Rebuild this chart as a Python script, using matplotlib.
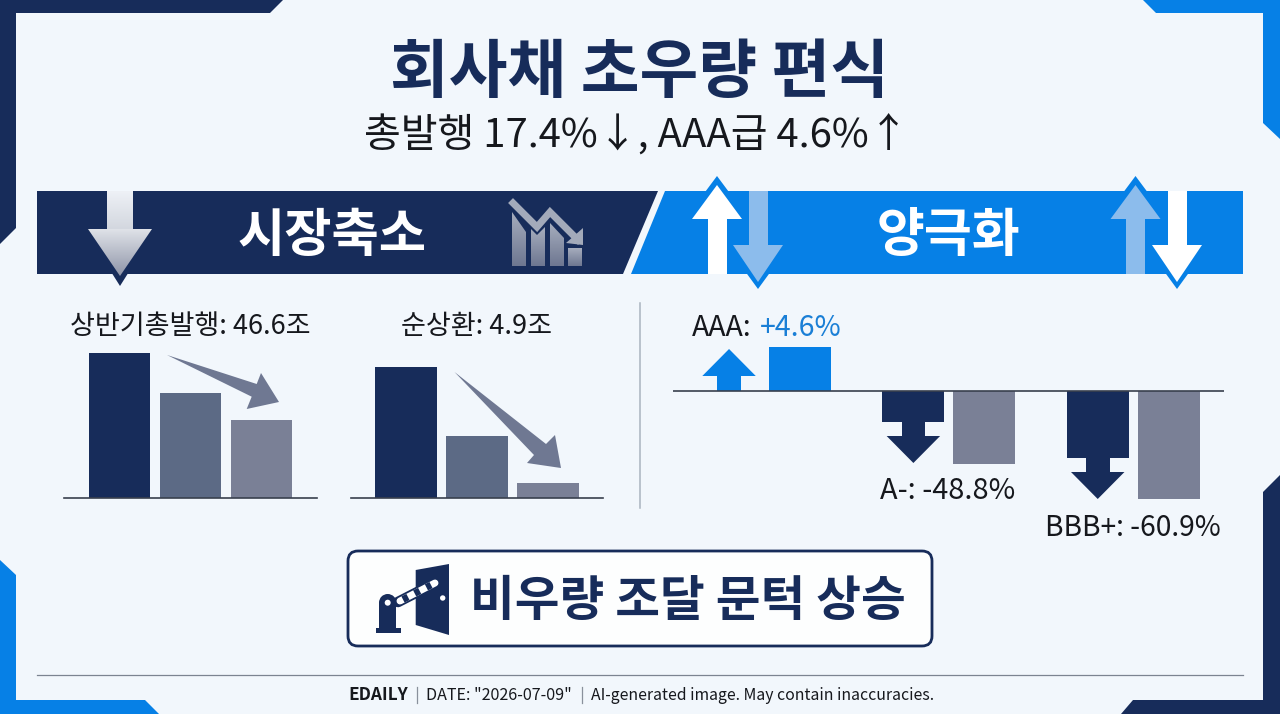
# Corporate bond infographic: high-grade bias in issuance

import numpy as np
import matplotlib
matplotlib.use("Agg")
import matplotlib.pyplot as plt
from matplotlib.patches import Polygon, Rectangle, FancyBboxPatch, Circle

plt.rcParams['font.family'] = ['Noto Sans CJK KR', 'DejaVu Sans']

W, H = 1280, 714
NAVY = "#172c5a"
BLUE = "#0680e6"
LIGHT_BLUE = "#8cbcec"
BG = "#f2f7fc"
SLATE = "#5c6a85"
GREY = "#7a8096"
INK = "#16181d"

# bar heights (the bars are not drawn to a printed scale)
issue_heights = [145, 105, 78]
redeem_heights = [131, 62, 15]
grades = ["AAA", "A-", "BBB+"]
grade_changes = ["+4.6%", "-48.8%", "-60.9%"]
grade_stubs = [0, -31, -67]
grade_bars = [44, -73, -108]
grade_tips = [42, -72, -108]
bar_colors = [NAVY, SLATE, GREY]
grade_colors = [BLUE, GREY, GREY]


def px_axes(fig, x0, y0, x1, y1):
    # axes placed by picture pixels (y counted from the top)
    ax = fig.add_axes([x0 / W, 1 - y1 / H, (x1 - x0) / W, (y1 - y0) / H])
    ax.patch.set_alpha(0)
    ax.set_xticks([])
    ax.set_yticks([])
    for s in ax.spines.values():
        s.set_visible(False)
    return ax


def poly(ax, pts, color, **kw):
    p = Polygon(pts, closed=True, facecolor=color, edgecolor="none", **kw)
    ax.add_patch(p)
    return p


def gradient_poly(ax, pts, top, bottom):
    xs = [p[0] for p in pts]
    ys = [p[1] for p in pts]
    c0 = np.array(matplotlib.colors.to_rgb(top))
    c1 = np.array(matplotlib.colors.to_rgb(bottom))
    t = np.linspace(0, 1, 64)[:, None, None]
    img = c0[None, None, :] * (1 - t) + c1[None, None, :] * t
    im = ax.imshow(img, extent=[min(xs), max(xs), max(ys), min(ys)], aspect="auto", zorder=3)
    clip = Polygon(pts, closed=True, transform=ax.transData)
    im.set_clip_path(clip)


def up_down_arrow(ax, cx, direction, color, head_half=25, shaft_half=9.5):
    # direction: 1 for up, -1 for down, always outlined by a blue tip
    if direction > 0:
        poly(ax, [(cx, 176), (cx - 32, 219), (cx + 32, 219)], BLUE, zorder=3)
        poly(ax, [(cx, 185), (cx - head_half, 219), (cx + head_half, 219)], color, zorder=4)
        ax.add_patch(Rectangle((cx - shaft_half, 219), shaft_half * 2, 55, fc=color, ec="none", zorder=4))
    else:
        poly(ax, [(cx, 289), (cx - 32, 245), (cx + 32, 245)], BLUE, zorder=3)
        poly(ax, [(cx, 282), (cx - head_half, 245), (cx + head_half, 245)], color, zorder=4)
        ax.add_patch(Rectangle((cx - shaft_half, 191), shaft_half * 2, 54, fc=color, ec="none", zorder=4))


fig = plt.figure(figsize=(W / 100, H / 100), dpi=100, facecolor=BG)
canvas = fig.add_axes([0, 0, 1, 1])
canvas.set_xlim(0, W)
canvas.set_ylim(H, 0)
canvas.axis("off")

# frame corners
poly(canvas, [(0, 0), (283, 0), (270, 13), (16, 13), (16, 228), (0, 244)], NAVY)
poly(canvas, [(1143, 0), (1280, 0), (1280, 139), (1263, 123), (1263, 13), (1156, 13)], BLUE)
poly(canvas, [(0, 560), (16, 575), (16, 700), (145, 700), (159, 714), (0, 714)], BLUE)
poly(canvas, [(1280, 475), (1280, 714), (1121, 714), (1133, 700), (1263, 700), (1263, 492)], NAVY)

# titles
canvas.text(640, 73, "회사채 초우량 편식", ha="center", va="center", fontsize=46, fontweight="bold", color=NAVY)
canvas.text(636, 135, "총발행 17.4%↓, AAA급 4.6%↑", ha="center", va="center", fontsize=28.8, color=INK)

# banners
poly(canvas, [(37, 191), (658, 191), (623, 274), (37, 274)], NAVY)
poly(canvas, [(665, 191), (1243, 191), (1243, 274), (631, 274)], BLUE)
canvas.text(332, 236, "시장축소", ha="center", va="center", fontsize=37, fontweight="bold", color="white", zorder=5)
canvas.text(948, 236, "양극화", ha="center", va="center", fontsize=37.5, fontweight="bold", color="white", zorder=5)

# big down arrow on the navy banner
poly(canvas, [(120, 286), (86, 232), (154, 232)], NAVY, zorder=2)
gradient_poly(canvas, [(107, 191), (133, 191), (133, 229), (107, 229)], "#eef1f6", "#d3d7df")
gradient_poly(canvas, [(88, 229), (152, 229), (120, 276)], "#dfe2e8", "#8f95a8")

# little falling chart icon
gradient_poly(canvas, [(512, 212), (526, 232), (526, 266), (512, 266)], "#a6adbd", "#6e7791")
gradient_poly(canvas, [(531, 229), (537, 235), (545, 227), (545, 266), (531, 266)], "#a6adbd", "#6e7791")
gradient_poly(canvas, [(550, 223), (564, 238), (564, 266), (550, 266)], "#a6adbd", "#6e7791")
gradient_poly(canvas, [(568, 248), (582, 248), (582, 266), (568, 266)], "#a6adbd", "#6e7791")
canvas.plot([513, 537, 550, 578], [203, 227, 212, 240], color="#a3aaba", lw=5, zorder=4, solid_joinstyle="miter")
poly(canvas, [(583, 228), (583, 245), (566, 243)], "#a3aaba", zorder=4)

# arrows on the blue banner
up_down_arrow(canvas, 717, 1, "white")
up_down_arrow(canvas, 758, -1, LIGHT_BLUE)
up_down_arrow(canvas, 1135.5, 1, LIGHT_BLUE)
up_down_arrow(canvas, 1177, -1, "white")

# left bar groups
ax1 = px_axes(fig, 64, 340, 317, 498)
ax1.bar(range(3), issue_heights, width=0.87, color=bar_colors)
ax1.set_xlim(-0.78, 2.78)
ax1.set_ylim(0, 158)
ax1.spines["bottom"].set_visible(True)
ax1.spines["bottom"].set_color("#39404d")
ax1.spines["bottom"].set_linewidth(1.2)

ax2 = px_axes(fig, 351, 340, 603, 498)
ax2.bar(range(3), redeem_heights, width=0.87, color=bar_colors)
ax2.set_xlim(-0.77, 2.78)
ax2.set_ylim(0, 158)
ax2.spines["bottom"].set_visible(True)
ax2.spines["bottom"].set_color("#39404d")
ax2.spines["bottom"].set_linewidth(1.2)

canvas.text(190.5, 326, "상반기총발행: 46.6조", ha="center", va="center", fontsize=19.5, color=INK)
canvas.text(476.5, 326, "순상환: 4.9조", ha="center", va="center", fontsize=19.5, color=INK)

poly(canvas, [(167, 355), (256.7, 384), (261, 373), (279, 402), (246.7, 409), (251.7, 396.7)], "#6f7892")
poly(canvas, [(454.5, 372), (546, 444), (555, 435), (561, 468), (527, 463), (534, 455)], "#6f7892")

# divider
canvas.plot([640, 640], [303, 508], color="#aab4bf", lw=1.1)

# grade changes
ax3 = px_axes(fig, 673, 340, 1224, 510)
x = np.arange(3)
ax3.bar(x, grade_bars, width=0.336, color=grade_colors)
ax3.bar(x - 0.385, grade_stubs, width=0.336, color=NAVY)
ax3.axhline(0, color="#39404d", lw=1.2, zorder=5)
ax3.set_xlim(-0.689, 2.30)
ax3.set_ylim(-119, 51)
for i in range(3):
    cx = x[i] - 0.385
    tip = grade_tips[i]
    sgn = 1 if tip > 0 else -1
    head_base = tip - sgn * 27
    c = BLUE if i == 0 else NAVY
    ax3.add_patch(Polygon([(cx, tip), (cx - 0.145, head_base), (cx + 0.145, head_base)], closed=True, fc=c, ec="none"))
    y0 = 0 if i == 0 else grade_stubs[i]
    ax3.add_patch(Rectangle((cx - 0.064, min(y0, head_base)), 0.128, abs(head_base - y0), fc=c, ec="none"))

canvas.text(752, 328, grades[0] + ":", ha="right", va="center", fontsize=20.5, color=INK)
canvas.text(760, 328, grade_changes[0], ha="left", va="center", fontsize=20.5, color="#1a7fd6")
canvas.text(948, 491, grades[1] + ": " + grade_changes[1], ha="center", va="center", fontsize=20.8, color=INK)
canvas.text(1133, 528, grades[2] + ": " + grade_changes[2], ha="center", va="center", fontsize=20.3, color=INK)

# callout box
canvas.add_patch(FancyBboxPatch((348, 551), 584, 95, boxstyle="round,pad=0,rounding_size=10",
                                fc="#fdfefe", ec=NAVY, lw=2))
canvas.text(688, 602, "비우량 조달 문턱 상승", ha="center", va="center", fontsize=35, fontweight="bold", color=NAVY)

# barrier and door icon
poly(canvas, [(415.7, 570), (449, 564), (449, 635), (415.7, 625)], NAVY, zorder=3)
canvas.add_patch(Circle((442.7, 598), 2.7, fc="white", ec="none", zorder=6))
canvas.add_patch(Rectangle((375.7, 628), 25.3, 5, fc=NAVY, ec="none", zorder=3))
canvas.add_patch(Rectangle((379, 602), 16.7, 28, fc=NAVY, ec="none", zorder=3))
canvas.add_patch(Circle((387.7, 602.7), 8.7, fc=NAVY, ec="none", zorder=3))
canvas.add_patch(Circle((387.7, 602.7), 3, fc="white", ec="none", zorder=5))
canvas.plot([398, 435], [602, 583], color=NAVY, lw=7.6, solid_capstyle="round", zorder=4)
canvas.plot([400, 435], [601, 583], color="white", lw=5, solid_capstyle="round", zorder=4)
canvas.plot([403, 431], [599.5, 585], color=NAVY, lw=5, ls=(0, (0.8, 1.1)), zorder=4)

# footer
canvas.plot([37, 1243], [675, 675], color="#7c8491", lw=0.9)
canvas.text(348, 695, "EDAILY", ha="left", va="center", fontsize=12.4, fontweight="bold", color=INK)
canvas.plot([416.5, 416.5], [687, 703], color="#8a919c", lw=0.9)
canvas.text(426, 695, 'DATE: "2026-07-09"', ha="left", va="center", fontsize=11.6, color=INK)
canvas.plot([582, 582], [687, 703], color="#8a919c", lw=0.9)
canvas.text(591, 695, "AI-generated image. May contain inaccuracies.", ha="left", va="center", fontsize=11.4, color=INK)

canvas.set_xlim(0, W)
canvas.set_ylim(H, 0)
fig.savefig("out.png", dpi=100, facecolor=BG)
